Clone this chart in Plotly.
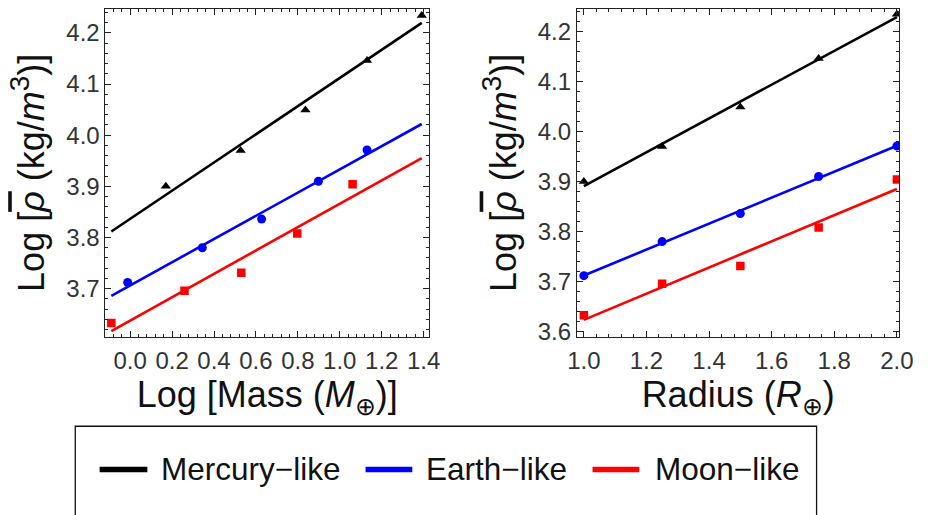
import numpy as np
import plotly.graph_objects as go

# ---------------- data ----------------
series_names = ["Mercury\u2212like", "Earth\u2212like", "Moon\u2212like"]
radius = [1.0, 1.25, 1.5, 1.75, 2.0]
logmass_mercury = [0.170, 0.527, 0.836, 1.130, 1.391]
logmass_earth = [-0.012, 0.344, 0.627, 0.898, 1.130]
logmass_moon = [-0.090, 0.259, 0.530, 0.797, 1.061]
logrho_mercury = [3.900, 3.970, 4.049, 4.146, 4.234]
logrho_earth = [3.712, 3.780, 3.836, 3.910, 3.971]
logrho_moon = [3.633, 3.696, 3.731, 3.808, 3.904]

colors = ["#000000", "#0000FF", "#FF0000"]
symbols = ["triangle-up", "circle", "square"]
msizes = [9, 9, 8.5]

W, H = 928, 515
def px(x):
    return x / W
def py(y):
    return 1 - y / H

FONT = "Liberation Sans, Arial, sans-serif"

fig = go.Figure()

left_x = [logmass_mercury, logmass_earth, logmass_moon]
ys = [logrho_mercury, logrho_earth, logrho_moon]

all_left = np.concatenate([np.array(a) for a in left_x])
left_span = np.array([all_left.min(), all_left.max()])
right_span = np.array([min(radius), max(radius)])

for i in range(3):
    # left panel: fit line + points
    k, b = np.polyfit(left_x[i], ys[i], 1)
    fig.add_trace(go.Scatter(x=left_span, y=k * left_span + b, mode="lines",
                             line=dict(color=colors[i], width=2.6),
                             xaxis="x", yaxis="y", showlegend=False, hoverinfo="skip"))
    fig.add_trace(go.Scatter(x=left_x[i], y=ys[i], mode="markers", name=series_names[i],
                             marker=dict(color=colors[i], symbol=symbols[i], size=msizes[i]),
                             xaxis="x", yaxis="y", showlegend=False))
    # right panel
    k2, b2 = np.polyfit(radius, ys[i], 1)
    fig.add_trace(go.Scatter(x=right_span, y=k2 * right_span + b2, mode="lines",
                             line=dict(color=colors[i], width=2.6),
                             xaxis="x2", yaxis="y2", showlegend=False, hoverinfo="skip"))
    fig.add_trace(go.Scatter(x=radius, y=ys[i], mode="markers", name=series_names[i],
                             marker=dict(color=colors[i], symbol=symbols[i], size=msizes[i]),
                             xaxis="x2", yaxis="y2", showlegend=False))

axis_common = dict(
    showline=True, linecolor="#222", linewidth=1, mirror="allticks",
    ticks="inside", ticklen=6, tickcolor="#222", tickwidth=1,
    showgrid=False, zeroline=False,
    tickfont=dict(family=FONT, size=24, color="#333"),
    title_font=dict(family=FONT, size=36, color="#111"),
)

ytitle = ("Log [<span style=\"text-decoration:overline\"><i>\u03c1</i></span> "
          "(kg/<i>m</i><sup><span style=\"font-size:28px\">3</span></sup>)]")

fig.update_layout(
    width=W, height=H,
    margin=dict(l=0, r=0, t=0, b=0),
    paper_bgcolor="white", plot_bgcolor="white",
    showlegend=False,
    xaxis=dict(domain=[px(98), px(430)], range=[-0.118, 1.425], anchor="y",
               tickvals=[0.0, 0.2, 0.4, 0.6, 0.8, 1.0, 1.2, 1.4],
               ticktext=["0.0", "0.2", "0.4", "0.6", "0.8", "1.0", "1.2", "1.4"],
               minor=dict(dtick=0.04, tick0=0, ticks="inside", ticklen=3, tickcolor="#222"),
               ticklabelstandoff=3,
               title=dict(text="Log [Mass (<i>M</i><sub>\u2295</sub>)]", standoff=8),
               **axis_common),
    yaxis=dict(domain=[py(342), py(9)], range=[3.606, 4.247], anchor="x",
               tickvals=[3.7, 3.8, 3.9, 4.0, 4.1, 4.2],
               ticktext=["3.7", "3.8", "3.9", "4.0", "4.1", "4.2"],
               minor=dict(dtick=0.02, tick0=0, ticks="inside", ticklen=3, tickcolor="#222"),
               title=dict(text=ytitle, standoff=10),
               **axis_common),
    xaxis2=dict(domain=[px(582), px(913)], range=[0.978, 2.008], anchor="y2",
                tickvals=[1.0, 1.2, 1.4, 1.6, 1.8, 2.0],
                ticktext=["1.0", "1.2", "1.4", "1.6", "1.8", "2.0"],
                minor=dict(dtick=0.04, tick0=0, ticks="inside", ticklen=3, tickcolor="#222"),
                ticklabelstandoff=3,
                title=dict(text="Radius (<i>R</i><sub>\u2295</sub>)", standoff=8),
                **axis_common),
    yaxis2=dict(domain=[py(342), py(9)], range=[3.590, 4.245], anchor="x2",
                tickvals=[3.6, 3.7, 3.8, 3.9, 4.0, 4.1, 4.2],
                ticktext=["3.6", "3.7", "3.8", "3.9", "4.0", "4.1", "4.2"],
                minor=dict(dtick=0.02, tick0=0, ticks="inside", ticklen=3, tickcolor="#222"),
                title=dict(text=ytitle, standoff=10),
                **axis_common),
)

# manual legend box
fig.add_shape(type="rect", xref="paper", yref="paper",
              x0=px(67), x1=px(828), y0=py(540), y1=py(433),
              line=dict(color="#111", width=1.3), fillcolor="rgba(0,0,0,0)")

legend_line_x = [(92, 141), (365, 413), (598, 646)]
legend_text_x = [153, 425, 660]
for i in range(3):
    x0, x1 = legend_line_x[i]
    fig.add_shape(type="line", xref="paper", yref="paper",
                  x0=px(x0), x1=px(x1), y0=py(477), y1=py(477),
                  line=dict(color=colors[i], width=5.5))
    fig.add_annotation(xref="paper", yref="paper", x=px(legend_text_x[i]), y=py(476),
                       xanchor="left", yanchor="middle", showarrow=False,
                       text=series_names[i],
                       font=dict(family=FONT, size=31.5, color="#111"))

fig.write_html("out.html")
